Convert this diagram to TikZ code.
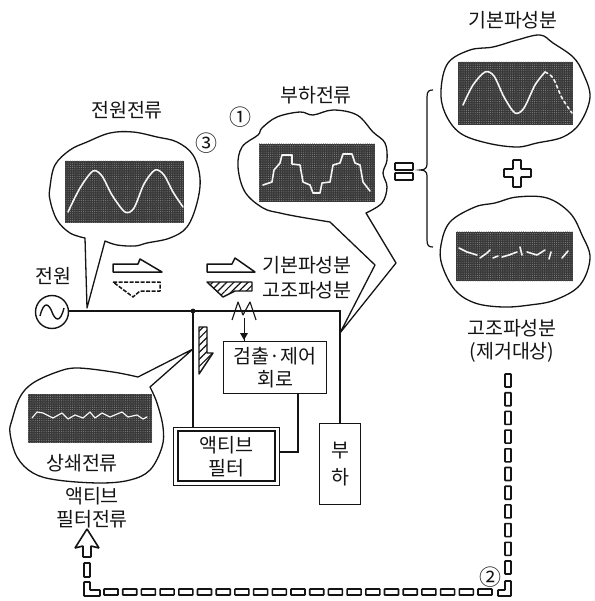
\documentclass[tikz,border=0pt]{standalone}
\usepackage{fontspec}
\setmainfont{Noto Sans CJK KR}
\usetikzlibrary{patterns.meta}
\definecolor{apfink}{HTML}{141414}
\definecolor{apfscope}{HTML}{383838}
\definecolor{apfspeck}{HTML}{8A8A8A}
\definecolor{apfwave}{HTML}{F4F4F4}
\tikzset{
  label/.style={font=\fontsize{19.5}{23}\selectfont, text=apfink, inner sep=0pt, align=center},
  marklabel/.style={font=\fontsize{22}{24}\selectfont, text=apfink, inner sep=0pt},
  cloudline/.style={draw=apfink, fill=white, line width=1.3pt, line join=round},
  scopebox/.style={fill=apfscope, postaction={pattern={Dots[radius=0.5pt,distance=2.2pt]}, pattern color=apfspeck}},
  wave/.style={draw=apfwave, line width=1.6pt, line cap=round, line join=round},
  wire/.style={draw=apfink, line width=1.3pt},
  blockbox/.style={draw=apfink, fill=white, line width=1.4pt, inner sep=0pt, anchor=north west},
  halfarrow/.style={draw=apfink, fill=white, line width=1.5pt, line join=round},
  hatcharrow/.style={draw=apfink, line width=1.4pt, line join=round,
    pattern={Lines[angle=45,distance=5pt,line width=1.2pt]}, pattern color=apfink},
  flowcell/.style={draw=apfink, fill=white, line width=1.6pt, rounded corners=0.5pt},
}
\begin{document}
\begin{tikzpicture}[x=1pt, y=-1pt]

  \useasboundingbox (0,0) rectangle (594,601);

  % --------------------------------------------------------------------
  % Source current cloud
  % --------------------------------------------------------------------

  \coordinate (srctip) at (87,308);

  \path[cloudline]
    plot[smooth, tension=0.6] coordinates {
      (105,241) (117,245) (135,246) (147,243) (170,238) (187,227) (197,203)
      (200,178) (193,155) (177,142) (157,137) (133,132) (110,133) (87,142)
      (70,150) (55,165) (50,187) (50,200) (57,220) (70,233) (85,238)
    }
    -- (srctip) -- cycle;

  \fill[scopebox] (65,161) rectangle (184,223);

  \draw[wave] plot[smooth] coordinates {
    (68,212) (80,188) (93,171) (102,176) (112,195) (125,212) (134,208)
    (144,184) (155,170) (164,175) (173,192) (183,207)
  };

  % --------------------------------------------------------------------
  % Load current cloud
  % --------------------------------------------------------------------

  \coordinate (loadtip) at (340,333);

  \path[cloudline]
    plot[smooth, tension=0.6] coordinates {
      (330,222) (300,217) (280,213) (263,208) (245,192) (238,167) (242,147)
      (258,135) (262,128) (277,117) (300,112) (313,115) (333,110) (357,115)
      (373,132) (385,143) (387,160) (383,173) (387,187) (382,203) (366,213)
    }
    -- (396,263) -- (loadtip) -- (375,265) -- cycle;

  \fill[scopebox] (259,144) rectangle (375,202);

  \draw[wave] plot coordinates {
    (263,185) (272,182) (274,170) (280,163) (282,155) (292,155) (292,164)
    (300,165) (303,182) (310,185) (313,193) (320,193) (322,183) (330,182)
    (333,165) (340,163) (343,154) (352,154) (355,163) (360,165) (363,182) (370,191)
  };

  % --------------------------------------------------------------------
  % Fundamental cloud
  % --------------------------------------------------------------------

  \path[cloudline]
    plot[smooth cycle, tension=0.6] coordinates {
      (441,90) (448,63) (470,50) (493,47) (517,40) (540,35) (553,43) (573,57)
      (583,73) (590,97) (580,123) (563,137) (537,143) (517,147) (487,143)
      (460,133) (445,113)
    };

  \fill[scopebox] (458,62) rectangle (573,125);

  \draw[wave] plot[smooth] coordinates {
    (463,105) (473,85) (485,72) (494,76) (504,97) (515,113) (524,108)
    (535,85) (545,72)
  };
  \draw[wave, dashed] plot[smooth] coordinates {
    (545,72) (553,78) (562,98) (572,113)
  };

  % --------------------------------------------------------------------
  % Harmonic cloud
  % --------------------------------------------------------------------

  \path[cloudline]
    plot[smooth cycle, tension=0.6] coordinates {
      (517,197) (547,198) (570,213) (582,235) (590,258) (580,285) (555,300)
      (530,305) (503,307) (475,303) (455,290) (442,265) (441,245) (450,222)
      (475,207) (495,203)
    };

  \fill[scopebox] (456,232) rectangle (573,281);

  \draw[wave] (459,248) -- (467,252) -- (477,255);
  \draw[wave] (480,258) -- (487,253) -- (490,250);
  \draw[wave] (493,258) -- (498,256);
  \draw[wave] (502,257) -- (509,255) -- (517,252);
  \draw[wave] (520,247) -- (522,255);
  \draw[wave] (527,252) -- (537,255) -- (545,250);
  \draw[wave] (549,259) -- (551,252);
  \draw[wave] (562,258) -- (568,251);

  % --------------------------------------------------------------------
  % Cancelling current cloud
  % --------------------------------------------------------------------

  \coordinate (cantip) at (193,349);

  \path[cloudline]
    plot[smooth, tension=0.6] coordinates {
      (150,387) (157,403) (163,427) (162,447) (150,470) (130,480) (100,483)
      (57,480) (33,473) (17,457) (10,433) (12,420) (20,397) (33,383) (57,372)
      (77,368) (113,372) (138,377)
    }
    -- (cantip) -- cycle;

  \fill[scopebox] (28,394) rectangle (152,443);

  \draw[wave, line width=1.2pt] plot coordinates {
    (32,418) (37,412) (43,413) (53,418) (62,413) (68,419) (75,415) (83,418)
    (90,412) (95,418) (102,413) (110,417) (122,412) (128,417) (137,415)
    (143,419) (147,417)
  };

  % --------------------------------------------------------------------
  % Circuit
  % --------------------------------------------------------------------

  \node[draw=apfink, line width=1.4pt, circle, minimum size=33pt, inner sep=0pt] (source) at (52,312) {};
  \draw[apfink, line width=1.4pt] (40,316) .. controls (44,300) and (49,304) .. (52,312)
    .. controls (55,320) and (60,324) .. (64,308);

  \node[blockbox, minimum width=103pt, minimum height=52pt] (detect) at (223,341) {};
  \node[blockbox, minimum width=41pt, minimum height=81pt] (loadbox) at (319,423) {};
  \node[blockbox, minimum width=106pt, minimum height=58pt] (filter) at (173,427) {};
  \draw[apfink, line width=1.2pt] (178,431) rectangle (275,481);

  \coordinate (busleft) at (193,311);
  \coordinate (busright) at (340,311);
  \coordinate (coilbot) at (244,318);
  \coordinate (detwire) at (298,393);
  \coordinate (filwire) at (298,452);

  \draw[wire] (source.east |- busleft) -- (busright) -- (busright |- loadbox.north);
  \draw[wire] (busleft) -- (busleft |- filter.north);
  \draw[wire] (detwire) -- (filwire) -- (filter.east |- filwire);
  \fill[apfink] (busleft) circle (2.4pt);

  \draw[apfink, line width=1.1pt, line join=round]
    (232,320) -- (238,302) -- (243,315) -- (250,302) -- (256,320);
  \draw[apfink, line width=1pt] (coilbot) -- (coilbot |- detect.north);
  \fill[apfink] (240,333) -- (248,333) -- (244,340) -- cycle;

  % --------------------------------------------------------------------
  % Current arrows
  % --------------------------------------------------------------------

  \draw[halfarrow] (113,264) -- (138,264) -- (140,259) -- (162,272) -- (113,272) -- cycle;
  \draw[halfarrow, dashed, dash pattern=on 4pt off 1.5pt]
    (113,282) -- (160,282) -- (160,291) -- (140,291) -- (133,297) -- cycle;
  \draw[halfarrow] (207,264) -- (232,264) -- (235,258) -- (255,272) -- (207,272) -- cycle;
  \path[hatcharrow] (207,282) -- (252,282) -- (252,291) -- (235,291) -- (223,297) -- cycle;
  \path[hatcharrow] (199,327) -- (207,327) -- (207,353) -- (213,353) -- (199,374) -- cycle;

  % --------------------------------------------------------------------
  % Sum symbols
  % --------------------------------------------------------------------

  \draw[flowcell] (395,163) rectangle (413,170);
  \draw[flowcell] (395,173) rectangle (413,180);

  \draw[apfink, line width=1.2pt] (427,97) .. controls (427,91) and (429,90) .. (433,90);
  \draw[apfink, line width=1.2pt] (433,247) .. controls (429,247) and (427,246) .. (427,240)
    -- (427,176) .. controls (427,172) and (425,170) .. (420,170)
    .. controls (425,170) and (427,168) .. (427,164) -- (427,97);

  \draw[flowcell] (513,160) -- (521,160) -- (521,169) -- (531,169) -- (531,177) -- (521,177)
    -- (521,187) -- (513,187) -- (513,177) -- (504,177) -- (504,169) -- (513,169) -- cycle;

  % --------------------------------------------------------------------
  % Hollow dashed flow
  % --------------------------------------------------------------------

  \foreach \k in {0,...,10}{
    \draw[flowcell] ({505},{374+\k*18.7}) rectangle ++(6,13);
  }
  \foreach \k in {0,...,20}{
    \draw[flowcell] ({104+\k*18.7},{589}) rectangle ++(14,6);
  }
  \draw[flowcell] (505,581) -- (511,581) -- (511,596) -- (498,596) -- (498,590) -- (505,590) -- cycle;
  \draw[flowcell] (84,582) -- (90,582) -- (90,590) -- (100,590) -- (100,596) -- (84,596) -- cycle;
  \draw[flowcell] (84,563) rectangle (90,577);
  \draw[flowcell] (87,529) -- (99,548) -- (91,546) -- (91,557) -- (83,557) -- (83,546) -- (75,548) -- cycle;

  % --------------------------------------------------------------------
  % Labels
  % --------------------------------------------------------------------

  \node[label] (srclabel) at (127,110) {전원전류};
  \node[label] (loadlabel) at (316,95) {부하전류};
  \node[label] (funlabel) at (513,20) {기본파성분};
  \node[label] (harmlabel) at (512,341) {고조파성분\\(제거대상)};
  \node[label] (powerlabel) at (53,276) {전원};
  \node[label] (legfun) at (307,265) {기본파성분};
  \node[label] (legharm) at (307,290) {고조파성분};
  \node[label] (detectlabel) at (detect.center) {검출·제어\\회로};
  \node[label] (filterlabel) at (filter.center) {액티브\\필터};
  \node[label] (loadboxlabel) at (loadbox.center) {부\\[4pt]하};
  \node[label] (canlabel) at (82,463) {상쇄전류};
  \node[label] (apflabel) at (92,508) {액티브\\필터전류};
  \node[marklabel] (markone) at (240,117) {①};
  \node[marklabel] (marktwo) at (490,577) {②};
  \node[marklabel] (markthree) at (206,143) {③};

\end{tikzpicture}
\end{document}
